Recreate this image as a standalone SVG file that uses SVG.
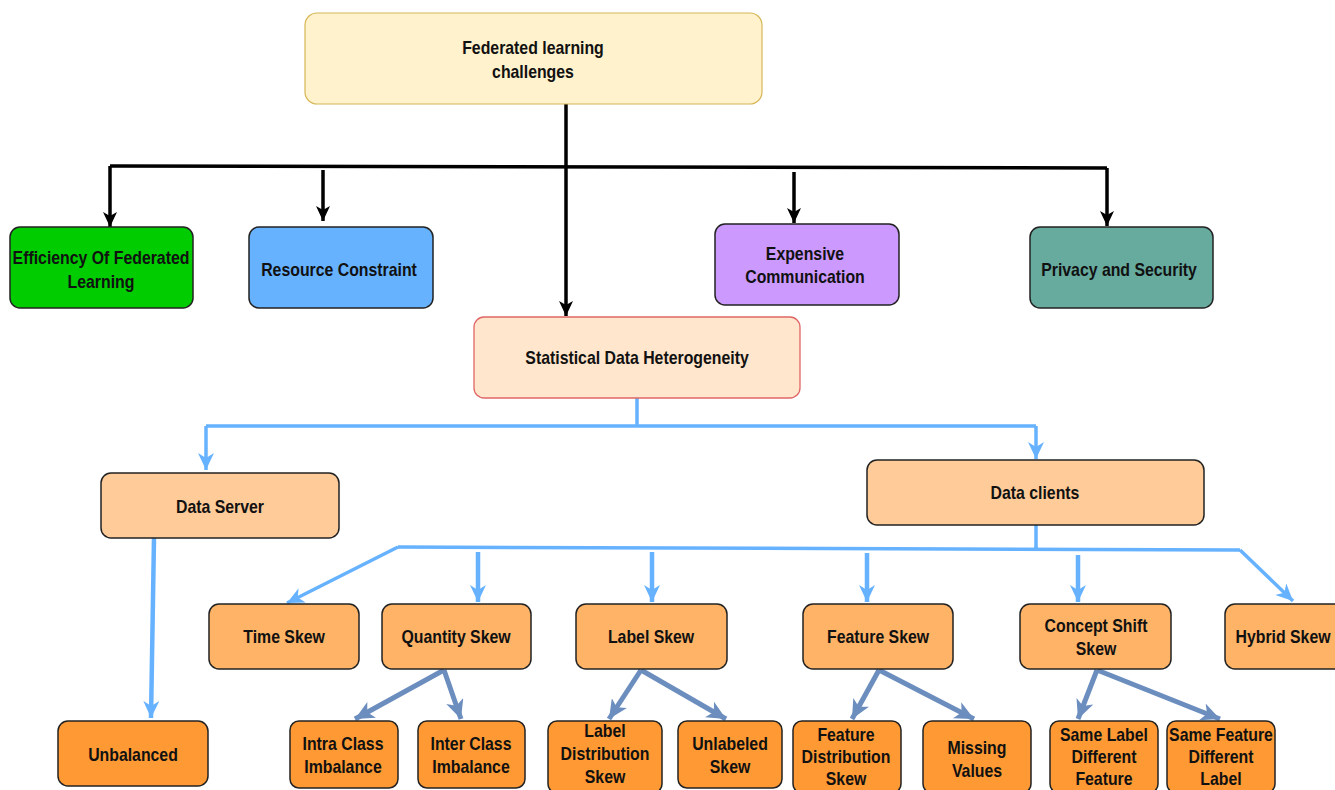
<svg xmlns="http://www.w3.org/2000/svg" width="1335" height="790" viewBox="0 0 1335 790">
  <defs>
    <style>
      .n{stroke:#222;stroke-width:1.5}
      .t{font:bold 18px "Liberation Sans",Arial,sans-serif;fill:#111;text-anchor:middle;transform-box:fill-box;transform-origin:center;transform:scaleX(.88)}
      .k{fill:none;stroke:#000;stroke-width:3.5}
      .b{fill:none;stroke:#66b2ff;stroke-width:3.5}
      .bw{fill:none;stroke:#66b2ff;stroke-width:4.5}
      .s{fill:none;stroke:#6c8ebf;stroke-width:5}
    </style>
    <marker id="ak" markerUnits="userSpaceOnUse" markerWidth="16" markerHeight="14" refX="15" refY="7" orient="auto">
      <path d="M0,0 L15,7 L0,14 L4,7 z" fill="#000"/>
    </marker>
    <marker id="ab" markerUnits="userSpaceOnUse" markerWidth="18" markerHeight="16" refX="17" refY="8" orient="auto">
      <path d="M0,0 L17,8 L0,16 L5,8 z" fill="#66b2ff"/>
    </marker>
    <marker id="as" markerUnits="userSpaceOnUse" markerWidth="20" markerHeight="18" refX="19" refY="9" orient="auto">
      <path d="M0,0 L19,9 L0,18 L5,9 z" fill="#6c8ebf"/>
    </marker>
  </defs>
  <rect width="1335" height="790" fill="#fff"/>

  <!-- connectors -->
  <g id="connectors">
    <!-- top level (black) -->
    <path class="k" d="M566,104 L566,316" marker-end="url(#ak)"/>
    <path class="k" d="M110,166 L1107,168"/>
    <path class="k" d="M110,166 L110,227" marker-end="url(#ak)"/>
    <path class="k" d="M323,170 L323,221" marker-end="url(#ak)"/>
    <path class="k" d="M794,172 L794,223" marker-end="url(#ak)"/>
    <path class="k" d="M1107,168 L1107,226" marker-end="url(#ak)"/>
    <!-- heterogeneity split (blue) -->
    <path class="b" d="M637,398 L637,426 M206,426 L1036,426"/>
    <path class="b" d="M206,426 L206,470" marker-end="url(#ab)"/>
    <path class="b" d="M1036,426 L1036,459" marker-end="url(#ab)"/>
    <path class="bw" d="M154,538 L151,718" marker-end="url(#ab)"/>
    <!-- data clients split -->
    <path class="b" d="M1036,525 L1036,548 M398,547 L1240,550"/>
    <path class="b" d="M398,547 L287,603" marker-end="url(#ab)"/>
    <path class="b" d="M1240,550 L1293,601" marker-end="url(#ab)"/>
    <path class="bw" d="M478,552 L478,602" marker-end="url(#ab)"/>
    <path class="bw" d="M652,552 L652,602" marker-end="url(#ab)"/>
    <path class="bw" d="M867,553 L867,602" marker-end="url(#ab)"/>
    <path class="bw" d="M1078,555 L1078,602" marker-end="url(#ab)"/>
    <!-- sub-categories (steel blue) -->
    <path class="s" d="M444,670 L355,719" marker-end="url(#as)"/>
    <path class="s" d="M444,670 L461,719" marker-end="url(#as)"/>
    <path class="s" d="M641,670 L609,719" marker-end="url(#as)"/>
    <path class="s" d="M641,670 L726,719" marker-end="url(#as)"/>
    <path class="s" d="M879,670 L852,719" marker-end="url(#as)"/>
    <path class="s" d="M879,670 L974,719" marker-end="url(#as)"/>
    <path class="s" d="M1097,670 L1078,719" marker-end="url(#as)"/>
    <path class="s" d="M1097,670 L1220,719" marker-end="url(#as)"/>
  </g>

  <!-- root -->
  <g id="root">
    <rect x="305" y="13" width="457" height="91" rx="12" fill="#fff2cc" stroke="#d6b656" stroke-width="1.2"/>
    <text class="t" x="533" y="54">Federated learning</text>
    <text class="t" x="533" y="78">challenges</text>
  </g>

  <!-- challenge categories -->
  <g id="efficiency">
    <rect class="n" x="10" y="227" width="183" height="81" rx="10" fill="#00cc00"/>
    <text class="t" x="101" y="264">Efficiency Of Federated</text>
    <text class="t" x="101" y="288">Learning</text>
  </g>
  <g id="resource">
    <rect class="n" x="249" y="227" width="184" height="81" rx="10" fill="#66b2ff"/>
    <text class="t" x="339" y="276">Resource Constraint</text>
  </g>
  <g id="communication">
    <rect class="n" x="715" y="224" width="184" height="81" rx="10" fill="#cc99ff"/>
    <text class="t" x="805" y="260">Expensive</text>
    <text class="t" x="805" y="283">Communication</text>
  </g>
  <g id="privacy">
    <rect class="n" x="1030" y="227" width="183" height="81" rx="10" fill="#67ab9f"/>
    <text class="t" x="1119" y="276">Privacy and Security</text>
  </g>
  <g id="heterogeneity">
    <rect x="474" y="317" width="326" height="81" rx="10" fill="#ffe6cc" stroke="#e06666" stroke-width="1.3"/>
    <text class="t" x="637" y="364">Statistical Data Heterogeneity</text>
  </g>

  <!-- data sides -->
  <g id="data-server">
    <rect class="n" x="101" y="473" width="238" height="65" rx="10" fill="#ffcc99"/>
    <text class="t" x="220" y="513">Data Server</text>
  </g>
  <g id="data-clients">
    <rect class="n" x="867" y="460" width="337" height="65" rx="10" fill="#ffcc99"/>
    <text class="t" x="1035" y="499">Data clients</text>
  </g>
  <g id="unbalanced">
    <rect class="n" x="58" y="721" width="150" height="65" rx="10" fill="#ff9933"/>
    <text class="t" x="133" y="761">Unbalanced</text>
  </g>

  <!-- skew types -->
  <g id="time-skew">
    <rect class="n" x="209" y="604" width="150" height="65" rx="10" fill="#ffb366"/>
    <text class="t" x="284" y="643">Time Skew</text>
  </g>
  <g id="quantity-skew">
    <rect class="n" x="382" y="604" width="149" height="65" rx="10" fill="#ffb366"/>
    <text class="t" x="456" y="643">Quantity Skew</text>
  </g>
  <g id="label-skew">
    <rect class="n" x="576" y="604" width="151" height="65" rx="10" fill="#ffb366"/>
    <text class="t" x="651" y="643">Label Skew</text>
  </g>
  <g id="feature-skew">
    <rect class="n" x="803" y="604" width="150" height="65" rx="10" fill="#ffb366"/>
    <text class="t" x="878" y="643">Feature Skew</text>
  </g>
  <g id="concept-shift">
    <rect class="n" x="1020" y="604" width="151" height="65" rx="10" fill="#ffb366"/>
    <text class="t" x="1096" y="632">Concept Shift</text>
    <text class="t" x="1096" y="655">Skew</text>
  </g>
  <g id="hybrid-skew">
    <rect class="n" x="1225" y="604" width="150" height="65" rx="10" fill="#ffb366"/>
    <text class="t" x="1283" y="643">Hybrid Skew</text>
  </g>

  <!-- leaf categories -->
  <g id="intra-class">
    <rect class="n" x="290" y="721" width="108" height="67" rx="9" fill="#ff9933"/>
    <text class="t" x="343" y="750">Intra Class</text>
    <text class="t" x="343" y="773">Imbalance</text>
  </g>
  <g id="inter-class">
    <rect class="n" x="418" y="721" width="107" height="67" rx="9" fill="#ff9933"/>
    <text class="t" x="471" y="750">Inter Class</text>
    <text class="t" x="471" y="773">Imbalance</text>
  </g>
  <g id="label-distribution">
    <rect class="n" x="548" y="721" width="114" height="72" rx="9" fill="#ff9933"/>
    <text class="t" x="605" y="737">Label</text>
    <text class="t" x="605" y="760">Distribution</text>
    <text class="t" x="605" y="783">Skew</text>
  </g>
  <g id="unlabeled">
    <rect class="n" x="678" y="721" width="104" height="67" rx="9" fill="#ff9933"/>
    <text class="t" x="730" y="750">Unlabeled</text>
    <text class="t" x="730" y="773">Skew</text>
  </g>
  <g id="feature-distribution">
    <rect class="n" x="793" y="721" width="108" height="72" rx="9" fill="#ff9933"/>
    <text class="t" x="846" y="741">Feature</text>
    <text class="t" x="846" y="763">Distribution</text>
    <text class="t" x="846" y="785">Skew</text>
  </g>
  <g id="missing-values">
    <rect class="n" x="923" y="721" width="108" height="72" rx="9" fill="#ff9933"/>
    <text class="t" x="977" y="754">Missing</text>
    <text class="t" x="977" y="777">Values</text>
  </g>
  <g id="same-label">
    <rect class="n" x="1050" y="721" width="108" height="72" rx="9" fill="#ff9933"/>
    <text class="t" x="1104" y="741">Same Label</text>
    <text class="t" x="1104" y="763">Different</text>
    <text class="t" x="1104" y="785">Feature</text>
  </g>
  <g id="same-feature">
    <rect class="n" x="1167" y="721" width="108" height="72" rx="9" fill="#ff9933"/>
    <text class="t" x="1221" y="741">Same Feature</text>
    <text class="t" x="1221" y="763">Different</text>
    <text class="t" x="1221" y="785">Label</text>
  </g>
</svg>
